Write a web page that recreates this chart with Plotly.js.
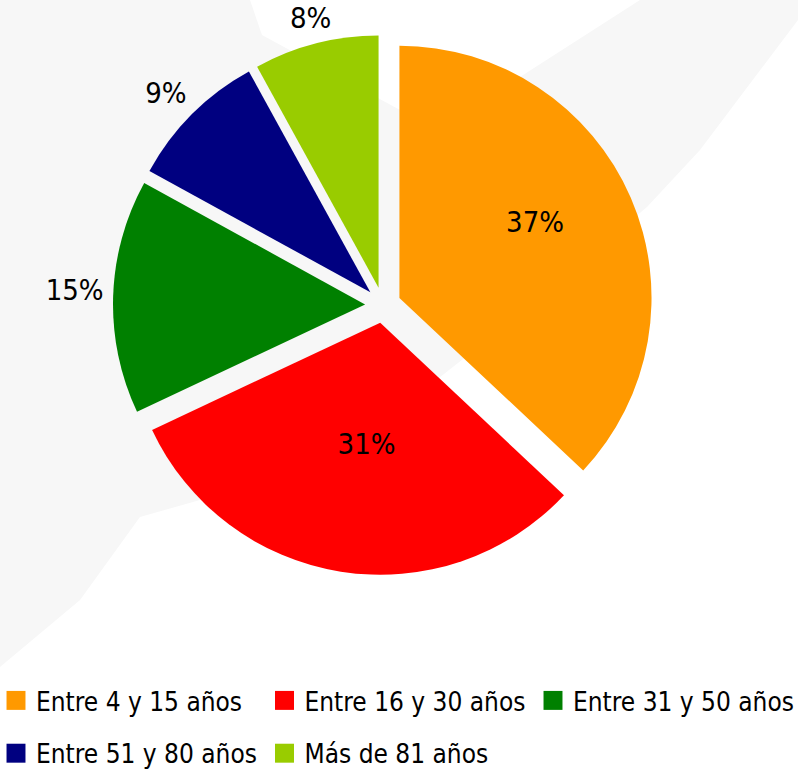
<!DOCTYPE html>
<html>
<head>
<meta charset="utf-8">
<script src="https://cdn.plot.ly/plotly-3.0.1.min.js"></script>
<style>
  html, body { margin: 0; padding: 0; background: #ffffff; }
  #chart { width: 798px; height: 770px; }
</style>
</head>
<body>
<div id="chart"></div>
<script>
// Data
const labels = ['Entre 4 y 15 años', 'Entre 16 y 30 años', 'Entre 31 y 50 años', 'Entre 51 y 80 años', 'Más de 81 años'];
const values = [37, 31, 15, 9, 8];
const colors = ['#ff9900', '#ff0000', '#008000', '#000080', '#99cc00'];
const textPositions = ['inside', 'inside', 'outside', 'outside', 'outside'];

// Background watermark outline (pixels)
const bgX = [0, 250, 262, 400, 520, 640, 798, 798, 700, 647, 500, 300, 200, 140, 80, 0];
const bgY = [0, 0, 35, 110, 77, 0, 0, 20, 150, 207, 330, 487, 500, 517, 600, 667];

// label nudges (pixels) per slice
const labelDX = [15, 8, -1, 3, 24];
const labelDY = [-24, -15, -7, -13, -10];

const W = 798, H = 770;
let bgPath = '';
for (let i = 0; i < bgX.length; i++) {
  bgPath += (i === 0 ? 'M' : 'L') + (bgX[i] / W).toFixed(4) + ',' + (1 - bgY[i] / H).toFixed(4);
}
bgPath += 'Z';

const FONT = '"DejaVu Sans Condensed", "Liberation Sans Narrow", sans-serif';

const trace = {
  type: 'pie',
  labels: labels,
  values: values,
  sort: false,
  direction: 'clockwise',
  rotation: 0,
  pull: 0.071,
  marker: { colors: colors, line: { width: 0 } },
  textinfo: 'percent',
  texttemplate: '%{percent:.0%}',
  textposition: textPositions,
  insidetextorientation: 'horizontal',
  textfont: { family: FONT, size: 29, color: '#000000' },
  domain: { x: [113 / W, 653 / W], y: [1 - 575 / H, 1 - 35 / H] },
  hoverinfo: 'label+percent'
};

const layout = {
  width: W,
  height: H,
  margin: { l: 0, r: 0, t: 0, b: 0, autoexpand: false },
  paper_bgcolor: '#ffffff',
  showlegend: true,
  legend: {
    orientation: 'h',
    x: 0, xanchor: 'left',
    y: 1 - 677 / H, yanchor: 'top',
    font: { family: FONT, size: 26, color: '#000000' },
    bgcolor: 'rgba(0,0,0,0)',
    entrywidth: 217,
    entrywidthmode: 'pixels',
    traceorder: 'normal'
  },
  shapes: [{
    type: 'path', xref: 'paper', yref: 'paper', layer: 'below',
    path: bgPath, fillcolor: '#f7f7f7', line: { width: 0 }
  }]
};

Plotly.newPlot('chart', [trace], layout, { displayModeBar: false, staticPlot: true }).then(function (gd) {
  // let legend rows spill outside its box
  gd.querySelectorAll('.legend [clip-path]').forEach(function (el) { el.removeAttribute('clip-path'); });
  // lay the legend out as a 3-column grid with wider rows
  const items = gd.querySelectorAll('.legend .traces');
  let firstX = null, firstY = null, col = 0, row = 0, prevY = null;
  items.forEach(function (g) {
    const m = /translate\(\s*([-\d.]+)[ ,]+([-\d.]+)\s*\)/.exec(g.getAttribute('transform') || '');
    if (!m) return;
    const x = parseFloat(m[1]), y = parseFloat(m[2]);
    if (firstX === null) { firstX = x; firstY = y; prevY = y; }
    if (y > prevY + 1) { row++; col = 0; prevY = y; }
    const nx = firstX - 4 + col * 268.5;
    const ny = y + row * 16;
    g.setAttribute('transform', 'translate(' + nx + ',' + ny + ')');
    col++;
  });
  // enlarge legend swatches
  gd.querySelectorAll('.legend .legendpoints path').forEach(function (p) {
    const t = p.getAttribute('transform') || '';
    p.setAttribute('transform', t + ' scale(1.58)');
  });
  // nudge slice labels
  gd.querySelectorAll('.pielayer .slice').forEach(function (s, i) {
    const tx = s.querySelector('.slicetext');
    if (!tx || i >= labelDX.length) return;
    const t = tx.getAttribute('transform') || '';
    tx.setAttribute('transform', 'translate(' + labelDX[i] + ',' + labelDY[i] + ') ' + t);
  });
});
</script>
</body>
</html>
